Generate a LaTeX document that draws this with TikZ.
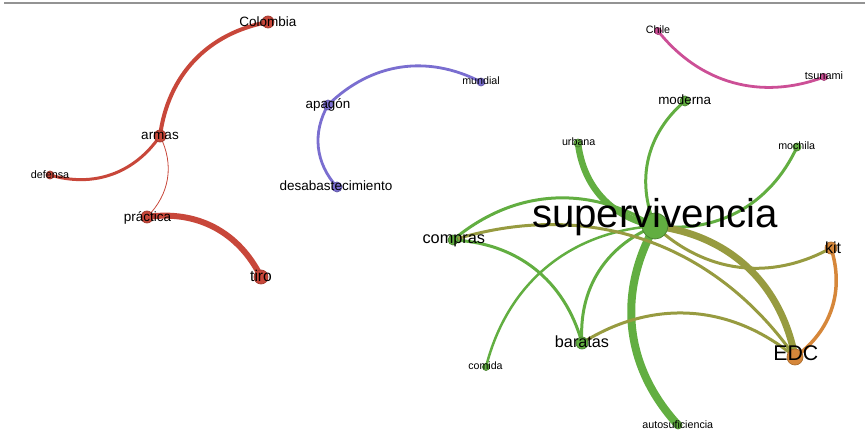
\documentclass[tikz,border=0pt]{standalone}
\usepackage{fontspec}
\setmainfont{Liberation Sans}
\usetikzlibrary{backgrounds}
\definecolor{cred}{HTML}{C8473A}
\definecolor{cpurple}{HTML}{7A6ED0}
\definecolor{cpink}{HTML}{CC4F96}
\definecolor{cgreen}{HTML}{62AE41}
\definecolor{colive}{HTML}{979B40}
\definecolor{corange}{HTML}{D6873A}
\tikzset{
  vtx/.style={circle, inner sep=0pt, minimum size=#1, line width=0.7pt},
  rv/.style={vtx=#1, fill=cred, draw=cred!80!black},
  pv/.style={vtx=#1, fill=cpurple, draw=cpurple!80!black},
  kv/.style={vtx=#1, fill=cpink, draw=cpink!80!black},
  gv/.style={vtx=#1, fill=cgreen, draw=cgreen!75!black},
  ov/.style={vtx=#1, fill=corange, draw=corange!80!black},
  lab/.style={anchor=base, inner sep=0pt, font=\fontsize{#1}{#1}\selectfont},
  edge/.style={line cap=round, bend left=36},
}
\begin{document}
\begin{tikzpicture}[x=1pt,y=1pt]
\useasboundingbox (0,0) rectangle (865,-438);
\draw[line width=1.4pt, gray!85] (4,-3) -- (865,-3);
% vertices
\node[rv=12] (colombia) at (268,-22) {};
\node[rv=12] (armas) at (160,-136) {};
\node[rv=8] (defensa) at (50,-175) {};
\node[rv=12] (practica) at (147,-217) {};
\node[rv=14] (tiro) at (261,-277) {};
\node[pv=10] (apagon) at (328,-105) {};
\node[pv=8] (mundial) at (481,-82) {};
\node[pv=10] (desab) at (337,-187) {};
\node[kv=7] (chile) at (658,-31) {};
\node[kv=7] (tsunami) at (824,-77) {};
\node[gv=10] (moderna) at (685,-101) {};
\node[gv=8] (mochila) at (797,-147) {};
\node[gv=8] (urbana) at (578,-143) {};
\node[gv=26] (superv) at (655,-226) {};
\node[gv=10] (compras) at (453,-240) {};
\node[ov=12] (kit) at (831,-248) {};
\node[ov=16] (edc) at (795,-357) {};
\node[gv=12] (baratas) at (582,-343) {};
\node[gv=7] (comida) at (486,-367) {};
\node[gv=8] (autosuf) at (678,-425) {};
% edges
\begin{scope}[on background layer]
\draw[edge, cred, line width=4pt] (armas.center) to (colombia.center);
\draw[edge, cred, line width=3pt] (armas.center) to (defensa.center);
\draw[edge, cred, line width=0.8pt] (armas.center) to (practica.center);
\draw[edge, cred, line width=6pt] (practica.center) to (tiro.center);
\draw[edge, cpurple, line width=2.8pt] (apagon.center) to (mundial.center);
\draw[edge, cpurple, line width=2.8pt] (desab.center) to (apagon.center);
\draw[edge, cpink, line width=2.8pt] (tsunami.center) to (chile.center);
\draw[edge, cgreen, line width=3pt] (superv.center) to (moderna.center);
\draw[edge, cgreen, line width=3pt] (mochila.center) to (superv.center);
\draw[edge, cgreen, line width=6.5pt] (superv.center) to (urbana.center);
\draw[edge, cgreen, line width=3pt] (compras.center) to (superv.center);
\draw[edge, cgreen, line width=3pt] (baratas.center) to (superv.center);
\draw[edge, cgreen, line width=2.5pt] (comida.center) to (superv.center);
\draw[edge, cgreen, line width=8pt] (autosuf.center) to (superv.center);
\draw[edge, cgreen, line width=3pt] (compras.center) to (baratas.center);
\draw[edge, colive, line width=7pt] (superv.center) to (edc.center);
\draw[edge, colive, line width=3pt] (kit.center) to (superv.center);
\draw[edge, colive, line width=3pt] (compras.center) to (edc.center);
\draw[edge, colive, line width=3pt] (baratas.center) to (edc.center);
\draw[edge, corange, line width=3.5pt] (kit.center) to (edc.center);
\end{scope}
% labels
\node[lab=13.5] (lcolombia) at (268,-27) {Colombia};
\node[lab=13.5] (larmas) at (160,-139.5) {armas};
\node[lab=10.8] (ldefensa) at (50,-178.5) {defensa};
\node[lab=13.5] (lpractica) at (147.5,-221.5) {práctica};
\node[lab=15.6] (ltiro) at (261,-281.5) {tiro};
\node[lab=13.4] (lapagon) at (328,-108.5) {apagón};
\node[lab=10.7] (lmundial) at (481,-85) {mundial};
\node[lab=13.5] (ldesab) at (336,-190.7) {desabastecimiento};
\node[lab=10.7] (lchile) at (658,-33.5) {Chile};
\node[lab=10.9] (ltsunami) at (824,-80) {tsunami};
\node[lab=13.4] (lmoderna) at (684.7,-104.5) {moderna};
\node[lab=10.7] (lmochila) at (796.7,-150) {mochila};
\node[lab=10.7] (lurbana) at (578.7,-145.7) {urbana};
\node[lab=40.2] (lsuperv) at (655,-228) {supervivencia};
\node[lab=16.3] (lcompras) at (453.8,-244) {compras};
\node[lab=16] (lkit) at (833,-253.3) {kit};
\node[lab=21.3] (ledc) at (795.8,-360) {EDC};
\node[lab=16.2] (lbaratas) at (582,-347.7) {baratas};
\node[lab=10.6] (lcomida) at (485.5,-370) {comida};
\node[lab=10.7] (lautosuf) at (677.8,-428.3) {autosuficiencia};
\end{tikzpicture}
\end{document}
